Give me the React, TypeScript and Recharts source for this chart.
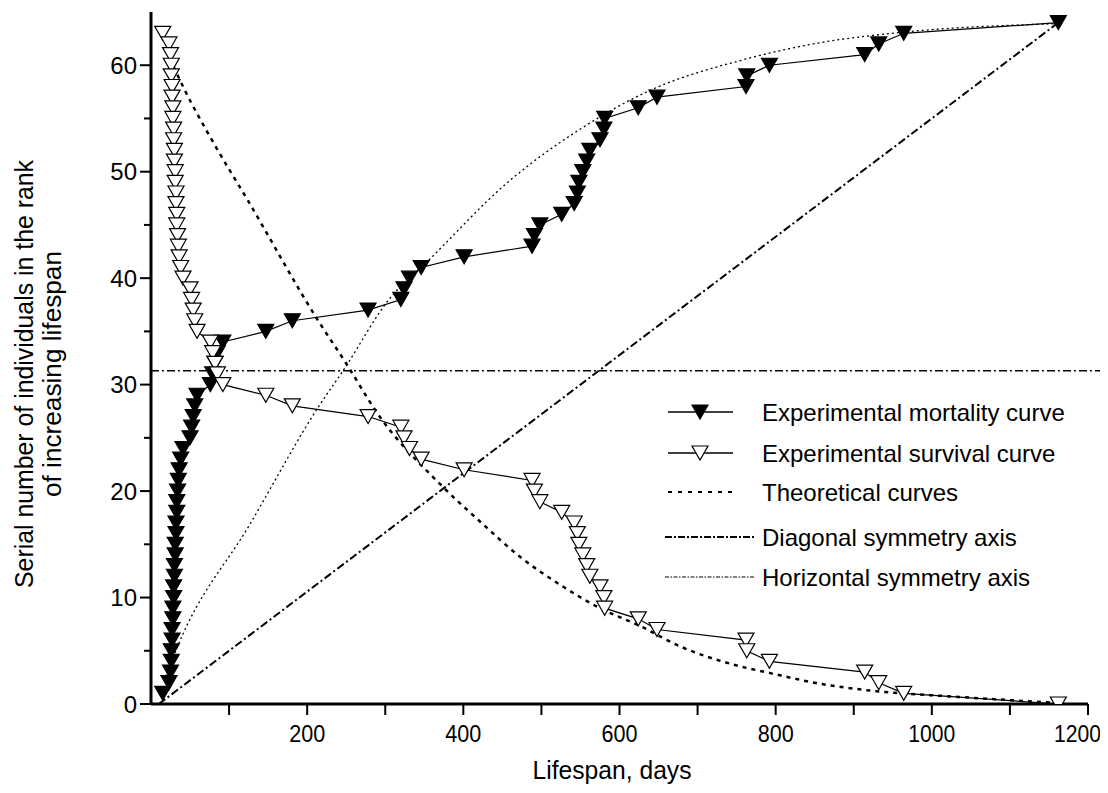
import {
  ComposedChart,
  Label,
  Legend,
  Line,
  ReferenceLine,
  XAxis,
  YAxis,
} from 'recharts';

// lifespan (days) of each individual, in rank of increasing lifespan
const lifespanDays = [
  15, 23, 25, 26, 26, 27, 27, 28, 28, 29, 29, 30, 30, 31, 31, 32, 32, 33, 33, 34,
  35, 36, 38, 41, 50, 52, 54, 56, 59, 76, 79, 82, 85, 92, 147, 181, 278, 320, 324,
  331, 346, 401, 488, 491, 498, 526, 542, 546, 548, 553, 558, 562, 575, 580, 581,
  624, 648, 762, 763, 792, 914, 932, 964, 1162,
];
const mortalityRank = [
  1, 2, 3, 4, 5, 6, 7, 8, 9, 10, 11, 12, 13, 14, 15, 16, 17, 18, 19, 20, 21, 22,
  23, 24, 25, 26, 27, 28, 29, 30, 31, 32, 33, 34, 35, 36, 37, 38, 39, 40, 41, 42,
  43, 44, 45, 46, 47, 48, 49, 50, 51, 52, 53, 54, 55, 56, 57, 58, 59, 60, 61, 62,
  63, 64,
];
const survivalRank = [
  63, 62, 61, 60, 59, 58, 57, 56, 55, 54, 53, 52, 51, 50, 49, 48, 47, 46, 45, 44,
  43, 42, 41, 40, 39, 38, 37, 36, 35, 34, 33, 32, 31, 30, 29, 28, 27, 26, 25, 24,
  23, 22, 21, 20, 19, 18, 17, 16, 15, 14, 13, 12, 11, 10, 9, 8, 7, 6, 5, 4, 3, 2,
  1, 0,
];

// theoretical curves
const survivalTheoryDays = [19, 30, 43, 77, 124, 215, 249, 290, 371, 422, 473, 524, 575, 627, 678, 746, 793, 857, 929, 1027, 1160];
const survivalTheoryRank = [61.4, 59.7, 57.7, 53.1, 47.3, 35.9, 32.1, 27.3, 20.6, 17.1, 13.8, 11.2, 9.0, 7.3, 5.4, 3.7, 2.9, 1.9, 1.2, 0.7, 0.1];
const mortalityTheoryDays = [19, 34, 126, 217, 245, 307, 349, 460, 554, 635, 763, 848, 963, 1160];
const mortalityTheoryRank = [2.6, 5.4, 16.8, 28.2, 31.2, 38.2, 41.2, 49.2, 54.2, 57.5, 60.6, 62.0, 63.1, 63.9];

// symmetry axes
const diagonalDays = [10, 1162];
const diagonalRank = [0, 64];
const horizontalRank = 31.3;
const horizontalDays = [0, 1222];

const xTicks = [100, 200, 300, 400, 500, 600, 700, 800, 900, 1000, 1100, 1200];
const yTicks = [0, 5, 10, 15, 20, 25, 30, 35, 40, 45, 50, 55, 60];

const toPoints = (xs: number[], ys: number[]) => xs.map((x, i) => ({ x, y: ys[i] }));

const mortalityData = toPoints(lifespanDays, mortalityRank);
const survivalData = toPoints(lifespanDays, survivalRank);
const survivalTheory = toPoints(survivalTheoryDays, survivalTheoryRank);
const mortalityTheory = toPoints(mortalityTheoryDays, mortalityTheoryRank);
const diagonal = toPoints(diagonalDays, diagonalRank);

const FONT = "'Liberation Sans', Arial, Helvetica, sans-serif";
const CHART_W = 1100;

const triPath = (cx: number, cy: number) =>
  `M${cx - 8},${cy - 7}L${cx + 8},${cy - 7}L${cx},${cy + 7}Z`;

const makeDot = (fill: string, prefix: string) => (props: any) => {
  const { cx, cy, index } = props;
  if (cx == null || cy == null) return <g key={`${prefix}-${index}`} />;
  return (
    <path
      key={`${prefix}-${index}`}
      d={triPath(cx, cy)}
      fill={fill}
      stroke="#000"
      strokeWidth={1.2}
    />
  );
};

const YTick = (props: any) => {
  const { x, y, payload } = props;
  const major = payload.value % 10 === 0;
  return (
    <g>
      <line x1={x - (major ? 11 : 7)} x2={x} y1={y} y2={y} stroke="#000" strokeWidth={2} />
      {major && (
        <text x={x - 14} y={y} dy="0.36em" textAnchor="end" fontSize={24} fontFamily={FONT} fill="#000">
          {payload.value}
        </text>
      )}
    </g>
  );
};

const XTick = (props: any) => {
  const { x, y, payload } = props;
  const major = payload.value % 200 === 0;
  const label = String(payload.value);
  const w = label.length * 11 + 3;
  // keep the last label inside the page
  const tx = Math.min(x, CHART_W - w / 2 - 7);
  return (
    <g>
      <line x1={x} x2={x} y1={y} y2={y + 11} stroke="#000" strokeWidth={2} />
      {major && (
        <text
          x={tx}
          y={y + 29}
          dy="0.36em"
          textAnchor="middle"
          fontSize={24}
          fontFamily={FONT}
          fill="#000"
          textLength={w}
          lengthAdjust="spacingAndGlyphs"
        >
          {label}
        </text>
      )}
    </g>
  );
};

const legendRows = [
  { label: 'Experimental mortality curve', y: 14, kind: 'mortality' },
  { label: 'Experimental survival curve', y: 55, kind: 'survival' },
  { label: 'Theoretical curves', y: 94, kind: 'theory' },
  { label: 'Diagonal symmetry axis', y: 139, kind: 'diagonal' },
  { label: 'Horizontal symmetry axis', y: 179, kind: 'horizontal' },
];

const LegendBox = () => (
  <svg width={450} height={200} style={{ display: 'block', overflow: 'visible' }}>
    {legendRows.map((r) => (
      <g key={r.kind}>
        {r.kind === 'mortality' || r.kind === 'survival' ? (
          <>
            <line x1={10} x2={75} y1={r.y} y2={r.y} stroke="#000" strokeWidth={1.5} />
            <path d={triPath(42, r.y)} fill={r.kind === 'mortality' ? '#000' : '#fff'} stroke="#000" strokeWidth={1.2} />
          </>
        ) : r.kind === 'theory' ? (
          <line x1={10} x2={75} y1={r.y} y2={r.y} stroke="#000" strokeWidth={2} strokeDasharray="4 6" />
        ) : r.kind === 'diagonal' ? (
          <line x1={7} x2={97} y1={r.y} y2={r.y} stroke="#000" strokeWidth={2} strokeDasharray="7 2 2 2" />
        ) : (
          <line x1={7} x2={97} y1={r.y} y2={r.y} stroke="#000" strokeWidth={1} strokeDasharray="4 1.5 1.5 1.5" />
        )}
        <text x={104} y={r.y} dy="0.36em" fontSize={24} fontFamily={FONT} fill="#000">
          {r.label}
        </text>
      </g>
    ))}
  </svg>
);

const YTitle = () => (
  <g fontFamily={FONT} fontSize={26} fill="#000">
    <text
      x={16}
      y={366}
      transform="rotate(-90, 16, 366)"
      textAnchor="middle"
      dominantBaseline="central"
      textLength={428}
      lengthAdjust="spacingAndGlyphs"
    >
      Serial number of individuals in the rank
    </text>
    <text
      x={44}
      y={366}
      transform="rotate(-90, 44, 366)"
      textAnchor="middle"
      dominantBaseline="central"
      textLength={246}
      lengthAdjust="spacingAndGlyphs"
    >
      of increasing lifespan
    </text>
  </g>
);

const XTitle = () => (
  <text
    x={604}
    y={762}
    textAnchor="middle"
    dominantBaseline="central"
    fontFamily={FONT}
    fontSize={26}
    fill="#000"
    textLength={159}
    lengthAdjust="spacingAndGlyphs"
  >
    Lifespan, days
  </text>
);

const App = () => (
  <div style={{ position: 'relative', width: CHART_W, height: 785 }}>
    <ComposedChart width={CHART_W} height={785} margin={{ top: 4, right: 20, left: 0, bottom: 0 }}>
      <XAxis
        dataKey="x"
        type="number"
        domain={[0, 1200]}
        ticks={xTicks}
        allowDataOverflow
        height={89}
        tickSize={0}
        tickMargin={0}
        tickLine={false}
        tick={<XTick />}
        axisLine={{ stroke: '#000', strokeWidth: 3 }}
      >
        <Label content={<XTitle />} />
      </XAxis>
      <YAxis
        dataKey="y"
        type="number"
        domain={[0, 65]}
        ticks={yTicks}
        allowDataOverflow
        width={143}
        tickSize={0}
        tickMargin={0}
        tickLine={false}
        tick={<YTick />}
        axisLine={{ stroke: '#000', strokeWidth: 3 }}
      >
        <Label content={<YTitle />} />
      </YAxis>
      <ReferenceLine
        segment={[
          { x: horizontalDays[0], y: horizontalRank },
          { x: horizontalDays[1], y: horizontalRank },
        ]}
        ifOverflow="visible"
        stroke="#000"
        strokeWidth={1.5}
        strokeDasharray="8 3 2 3"
      />
      <Line
        data={diagonal}
        dataKey="y"
        type="linear"
        stroke="#000"
        strokeWidth={2}
        strokeDasharray="8 3 2 3"
        dot={false}
        isAnimationActive={false}
      />
      <Line
        data={survivalTheory}
        dataKey="y"
        type="monotone"
        stroke="#000"
        strokeWidth={2.5}
        strokeDasharray="4 5"
        dot={false}
        isAnimationActive={false}
      />
      <Line
        data={mortalityTheory}
        dataKey="y"
        type="monotone"
        stroke="#000"
        strokeWidth={1.3}
        strokeDasharray="2 3"
        dot={false}
        isAnimationActive={false}
      />
      <Line
        data={mortalityData}
        dataKey="y"
        type="linear"
        stroke="#000"
        strokeWidth={1.2}
        dot={makeDot('#000', 'm')}
        isAnimationActive={false}
      />
      <Line
        data={survivalData}
        dataKey="y"
        type="linear"
        stroke="#000"
        strokeWidth={1.2}
        dot={makeDot('#fff', 's')}
        isAnimationActive={false}
      />
      <Legend
        layout="vertical"
        align="center"
        verticalAlign="middle"
        content={<LegendBox />}
        wrapperStyle={{ position: 'absolute', left: 650, top: 390, width: 450, height: 200 }}
      />
    </ComposedChart>
  </div>
);

export default App;
